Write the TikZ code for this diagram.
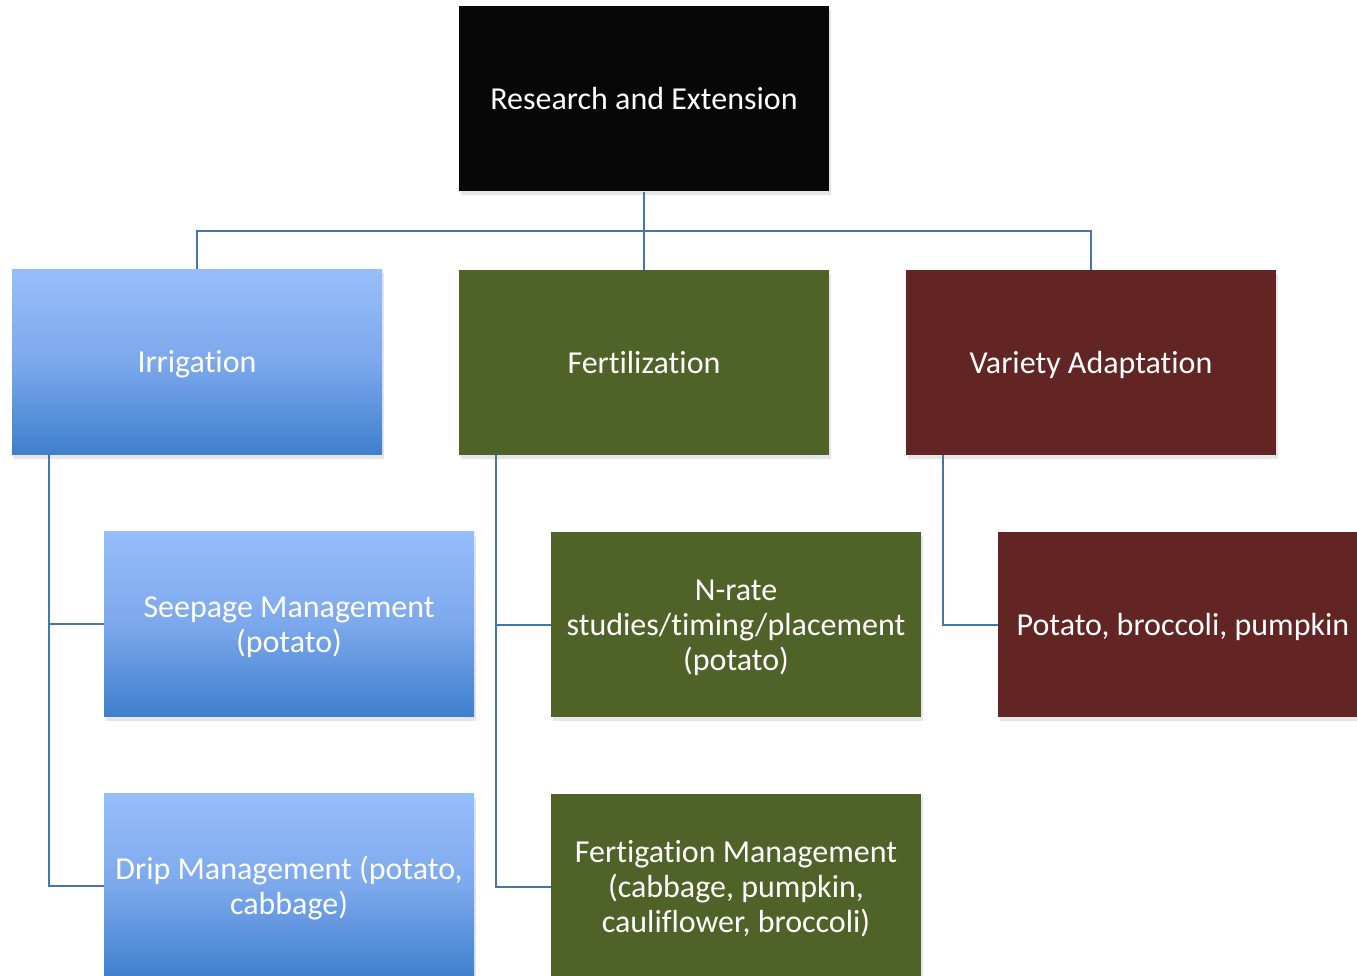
\documentclass[tikz,border=0pt]{standalone}
\usepackage{fontspec}
\setmainfont{Carlito}[Ligatures=NoCommon]
\usetikzlibrary{shadows,calc}
\definecolor{topblack}{HTML}{070707}
\definecolor{olivebox}{HTML}{4F6228}
\definecolor{maroonbox}{HTML}{632523}
\definecolor{bluetop}{HTML}{97BEFB}
\definecolor{bluemid}{HTML}{7CA8EC}
\definecolor{bluebot}{HTML}{3F7FCD}
\definecolor{conn}{HTML}{4674AE}
\newcommand{\boxstrut}{\rule[-7pt]{0pt}{35pt}}
\begin{document}
\begin{tikzpicture}[x=1pt,y=-1pt,
  box/.style={minimum width=370pt, minimum height=185pt, inner sep=0pt,
    text width=366pt, align=flush center, text=white,
    font=\fontsize{32}{35}\selectfont,
    execute at begin node={\boxstrut}, execute at end node={\boxstrut},
    drop shadow={opacity=0.2, shadow xshift=2pt, shadow yshift=-4pt}},
  blackbox/.style={box, fill=topblack},
  bluebox/.style={box, top color=bluetop, bottom color=bluebot, middle color=bluemid},
  greenbox/.style={box, fill=olivebox},
  redbox/.style={box, fill=maroonbox},
  link/.style={draw=conn, line width=2pt}]
\useasboundingbox (0,0) rectangle (1357,976);
\clip (0,0) rectangle (1357,976);
\node[blackbox] (top) at (644,99) {Research and Extension};
\node[bluebox] (irr) at (197,362) {Irrigation};
\node[greenbox] (fert) at (644,362.5) {Fertilization};
\node[redbox] (var) at (1091,362.5) {Variety Adaptation};
\node[bluebox] (seep) at (289,624) {Seepage Management\\(potato)};
\node[greenbox] (nrate) at (736,624.5) {N-rate\\studies/timing/placement\\(potato)};
\node[redbox] (pot) at (1183,624.5) {Potato, broccoli, pumpkin};
\node[bluebox] (drip) at (289,886) {Drip Management (potato,\\cabbage)};
\node[greenbox] (fertig) at (736,886.5) {Fertigation Management\\(cabbage, pumpkin,\\cauliflower, broccoli)};
\coordinate (bus) at (644,231);
\draw[link] (top.south) -- (fert.north);
\draw[link] (irr.north) |- (bus) -| (var.north);
\draw[link] ($(irr.south west)+(37,0)$) |- (seep.west);
\draw[link] ($(irr.south west)+(37,0)$) |- (drip.west);
\draw[link] ($(fert.south west)+(37,0)$) |- (nrate.west);
\draw[link] ($(fert.south west)+(37,0)$) |- (fertig.west);
\draw[link] ($(var.south west)+(37,0)$) |- (pot.west);
\end{tikzpicture}
\end{document}
